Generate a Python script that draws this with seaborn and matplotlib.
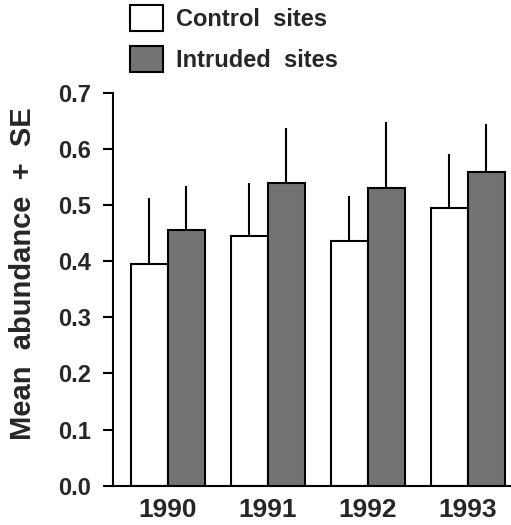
import pandas as pd
import seaborn as sns
import matplotlib.pyplot as plt
from matplotlib.patches import Patch

years = ["1990", "1991", "1992", "1993"]
sites = ["Control sites", "Intruded sites"]
control_mean = [0.395, 0.444, 0.435, 0.495]
control_se = [0.117, 0.095, 0.081, 0.095]
intruded_mean = [0.455, 0.540, 0.530, 0.558]
intruded_se = [0.079, 0.098, 0.118, 0.086]

data = pd.DataFrame({
    "year": years * 2,
    "site": [sites[0]] * 4 + [sites[1]] * 4,
    "mean": control_mean + intruded_mean,
})
ses = {sites[0]: control_se, sites[1]: intruded_se}
colors = {sites[0]: "white", sites[1]: "#737373"}

sns.set_style("ticks")
plt.rcParams["font.family"] = ["Liberation Sans", "DejaVu Sans"]
plt.rcParams["font.weight"] = "bold"

fig = plt.figure(figsize=(5.11, 5.25), dpi=100)
ax = fig.add_axes([0.2211, 0.0749, 0.7769, 0.7485])

sns.barplot(data=data, x="year", y="mean", hue="site", palette=colors,
            edgecolor="black", linewidth=1.5, width=0.74, gap=0,
            legend=False, ax=ax)

# upper-only error bars, no caps
for container, site in zip(ax.containers, sites):
    for bar, se in zip(container, ses[site]):
        x = bar.get_x() + bar.get_width() / 2
        h = bar.get_height()
        ax.vlines(x, h, h + se, color="black", lw=1.5, zorder=1)

ax.set_ylim(0, 0.7)
ax.set_xlim(-0.55, 3.42)
ax.set_yticks([0, 0.1, 0.2, 0.3, 0.4, 0.5, 0.6, 0.7])
ax.set_yticklabels([f"{v:.1f}" for v in ax.get_yticks()], fontsize=17, fontweight="bold")
ax.set_xticklabels(years, fontsize=19, fontweight="bold")
ax.tick_params(axis="y", length=7.2, width=1.5, pad=8.6, color="black")
ax.tick_params(axis="x", length=0, pad=9)
ax.set_xlabel("")
ax.set_ylabel("")
sns.despine(ax=ax)
for s in ["left", "bottom"]:
    ax.spines[s].set_linewidth(1.5)
    ax.spines[s].set_color("black")

fig.text(23 / 511, 1 - 273.5 / 525, "Mean  abundance  +  SE", rotation=90,
         ha="center", va="center", fontsize=21, fontweight="bold")

handles = [Patch(facecolor=colors[s], edgecolor="black", lw=1.5) for s in sites]
fig.legend(handles, ["Control  sites", "Intruded  sites"], loc="upper left",
           bbox_to_anchor=(130 / 511, 1 - 5 / 525), frameon=False, borderpad=0,
           borderaxespad=0, prop={"size": 17, "weight": "bold"},
           handlelength=1.4, handleheight=1.3, labelspacing=0.66,
           handletextpad=0.55)

fig.savefig("out.png", dpi=100)
